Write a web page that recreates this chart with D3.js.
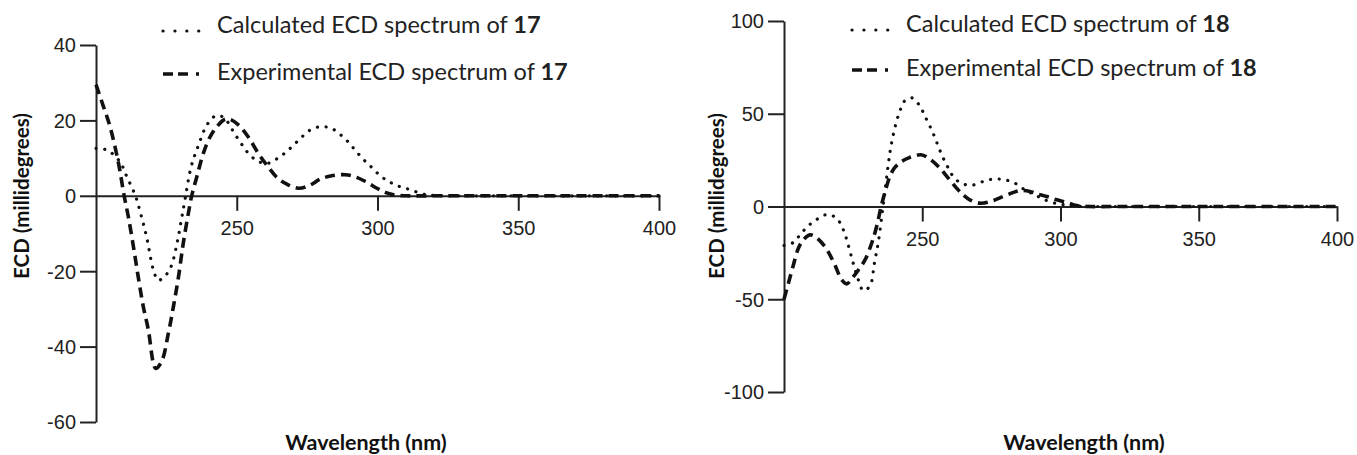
<!DOCTYPE html>
<html>
<head>
<meta charset="utf-8">
<script src="https://cdn.jsdelivr.net/npm/d3@7"></script>
<style>
  body { margin: 0; background: #fff; }
  svg { display: block; }
  .tick text { font-family: "Liberation Sans", Arial, sans-serif; font-size: 20px; fill: #222; }
  .axis path, .axis line { stroke: #222; stroke-width: 2; }
  .legend text { font-family: Lato, "Open Sans", sans-serif; font-size: 23.5px; fill: #222; }
  .title { font-family: Lato, "Open Sans", sans-serif; font-weight: bold; fill: #111; }
</style>
</head>
<body>
<svg id="chart" width="1357" height="455"></svg>
<script>
// wavelength (nm) / ECD (mdeg)
const calc17Wl  = [200, 204, 208.5, 211, 214, 216, 218, 220.4, 222.1, 224.5, 226.7, 228.7, 230.2, 231.6, 233.8, 236.4, 239.4, 242.5, 245.3, 250, 254.7, 258, 261, 264, 267, 270, 273, 276, 279.5, 283.6, 287, 289.7, 292.3, 295.2, 298, 301, 304.2, 307.7, 311.7, 316, 320, 330, 350, 375, 400];
const calc17Val = [12.6, 12.1, 9, 5, 0, -5.1, -11, -19.7, -22.4, -21.3, -18.7, -12.9, -6.9, -1.1, 7.7, 13.4, 18.8, 21.2, 20.8, 15.6, 10.8, 9, 8.6, 9.7, 11.3, 13.3, 15.5, 17.4, 18.3, 17.9, 16.1, 14.2, 11.9, 9.5, 7.5, 5.3, 3.7, 2.5, 1.6, 0.5, 0.1, 0, 0, 0, 0];

const exp17Wl  = [200, 202.5, 205, 208, 210, 211.5, 213.3, 215, 216.8, 218.6, 220.4, 221.2, 223.3, 225.7, 227.5, 229.3, 231, 232.8, 234, 235.8, 238.1, 240.5, 242.9, 245.8, 247.6, 250.6, 254.1, 257.7, 260.7, 264.5, 267.8, 271.9, 276, 279.6, 283.7, 288.5, 292.6, 296.2, 299.8, 302.7, 306.3, 310, 320, 350, 400];
const exp17Val = [29.5, 24, 18.3, 8.6, 0, -5.6, -13.5, -21.5, -29.4, -35.6, -44.5, -45.8, -44, -36.5, -29.4, -21.5, -12.6, -4.7, 0, 5, 11.2, 15.6, 18.3, 20.3, 20.3, 18.8, 15.6, 11.2, 8.1, 4.7, 3.1, 2.0, 2.8, 4.4, 5.3, 5.6, 4.9, 3.6, 2, 0.9, 0.2, 0, 0, 0, 0];

const calc18Wl  = [200, 203.4, 206.1, 208.8, 212, 215.7, 219, 221.2, 222.7, 224.7, 226.9, 228.7, 231.1, 232.7, 234.1, 236, 237.7, 238.9, 240.7, 241.9, 243.5, 246.4, 249.2, 251, 252.8, 254.4, 255.8, 257.4, 259.2, 261.2, 264, 267.9, 272.1, 275.7, 279.9, 283.5, 287.1, 290.5, 293.7, 297.9, 301.6, 306, 320, 350, 400];
const calc18Val = [-21, -19.4, -14.7, -10.4, -6.8, -4.3, -6.3, -11.7, -18, -28.8, -39.6, -45.3, -42.8, -30.5, -19.4, 2, 22.5, 34.2, 45.9, 51.3, 56.7, 58.5, 54, 48.6, 43.2, 37.8, 32.4, 26.7, 21.3, 16.2, 12.6, 11.5, 13.5, 14.8, 14.4, 12.6, 9, 6.5, 4, 1.8, 0.9, 0.2, 0, 0, 0];

const exp18Wl  = [200, 201.6, 203.4, 205.2, 207, 209.4, 211.2, 214.8, 216.6, 218.4, 220.9, 222.7, 225.1, 226.9, 229.3, 231.7, 233.5, 235.3, 237.1, 238.3, 239.9, 242.6, 244.9, 249.5, 252.2, 255.8, 259.4, 262.4, 265, 267.2, 270.9, 275.7, 279.3, 283, 285.3, 288.9, 291.4, 295, 298.6, 302.2, 305.8, 310, 320, 350, 400];
const exp18Val = [-50, -41.3, -31.5, -22.5, -18, -15.3, -16.2, -21.6, -26.1, -31.5, -39.6, -41.7, -37.8, -34.2, -28.8, -19.8, -10.8, 1, 10.8, 16.2, 20.7, 24.3, 26.1, 27.9, 26.1, 21.6, 15.3, 9.9, 6, 3.6, 1.8, 3.2, 5.4, 7.6, 8.6, 8.1, 6.9, 5.4, 3.6, 2.2, 0.5, 0, 0, 0, 0];

const xTicks = [250, 300, 350, 400];
const yTicks17 = [-60, -40, -20, 0, 20, 40];
const yTicks18 = [-100, -50, 0, 50, 100];
const calcLabel = "Calculated ECD spectrum of ";
const expLabel = "Experimental ECD spectrum of ";

const svg = d3.select("#chart");
const zip = (xs, ys) => xs.map((x, i) => ({ wl: x, v: ys[i] }));
const plain = d => String(d);   // plain hyphen minus, like the original

const drawPanel = (p) => {
  const x = d3.scaleLinear().domain([200, 400]).range(p.xRange);
  const y = d3.scaleLinear().domain(p.yDomain).range(p.yRange);
  const g = svg.append("g");

  g.append("g")
    .attr("class", "axis")
    .attr("transform", `translate(${p.xRange[0]},0)`)
    .call(d3.axisLeft(y).tickValues(p.yTicks).tickFormat(plain)
      .tickSize(16).tickSizeOuter(0).tickPadding(4))
    .selectAll(".tick text").attr("dy", "0.34em");

  g.append("g")
    .attr("class", "axis")
    .attr("transform", `translate(0,${y(0)})`)
    .call(d3.axisBottom(x).tickValues(xTicks).tickFormat(plain)
      .tickSize(15).tickSizeOuter(0).tickPadding(10));

  const line = d3.line()
    .x(d => x(d.wl))
    .y(d => y(d.v))
    .curve(d3.curveCatmullRom);

  g.append("path")
    .datum(zip(p.calcWl, p.calcVal))
    .attr("d", line)
    .attr("fill", "none")
    .attr("stroke", "#111")
    .attr("stroke-width", 3.2)
    .attr("stroke-linecap", "round")
    .attr("stroke-dasharray", "0.1,8.6");

  g.append("path")
    .datum(zip(p.expWl, p.expVal))
    .attr("d", line)
    .attr("fill", "none")
    .attr("stroke", "#111")
    .attr("stroke-width", 3.6)
    .attr("stroke-dasharray", "10,6");

  // legend
  const lg = g.append("g").attr("class", "legend");
  lg.append("line")
    .attr("x1", p.legX).attr("x2", p.legX + 37)
    .attr("y1", p.legY1 - 2).attr("y2", p.legY1 - 2)
    .attr("stroke", "#111").attr("stroke-width", 3.2)
    .attr("stroke-linecap", "round").attr("stroke-dasharray", "0.1,11.8");
  lg.append("line")
    .attr("x1", p.legX).attr("x2", p.legX + 37)
    .attr("y1", p.legY2 - 6).attr("y2", p.legY2 - 6)
    .attr("stroke", "#111").attr("stroke-width", 3.6)
    .attr("stroke-dasharray", "10,5,10,8,3,20");

  const t1 = lg.append("text").attr("x", p.legX + 54).attr("y", p.legY1);
  t1.append("tspan").text(calcLabel);
  t1.append("tspan").attr("font-weight", "bold").text(p.id);
  const t2 = lg.append("text").attr("x", p.legX + 54).attr("y", p.legY2);
  t2.append("tspan").text(expLabel);
  t2.append("tspan").attr("font-weight", "bold").text(p.id);

  // axis titles
  g.append("text")
    .attr("class", "title")
    .attr("font-size", 20.5)
    .attr("text-anchor", "middle")
    .attr("transform", `translate(${p.yTitleX},196) rotate(-90)`)
    .text("ECD (millidegrees)");

  g.append("text")
    .attr("class", "title")
    .attr("font-size", 21.5)
    .attr("text-anchor", "middle")
    .attr("x", p.xTitleX).attr("y", 450)
    .text("Wavelength (nm)");
};

drawPanel({
  id: "17",
  xRange: [96, 659], yDomain: [-60, 40], yRange: [422, 45], yTicks: yTicks17,
  calcWl: calc17Wl, calcVal: calc17Val, expWl: exp17Wl, expVal: exp17Val,
  legX: 163, legY1: 33, legY2: 80, yTitleX: 29, xTitleX: 366
});

drawPanel({
  id: "18",
  xRange: [784, 1337], yDomain: [-100, 100], yRange: [392, 21], yTicks: yTicks18,
  calcWl: calc18Wl, calcVal: calc18Val, expWl: exp18Wl, expVal: exp18Val,
  legX: 852, legY1: 32, legY2: 76, yTitleX: 724, xTitleX: 1084
});
</script>
</body>
</html>
